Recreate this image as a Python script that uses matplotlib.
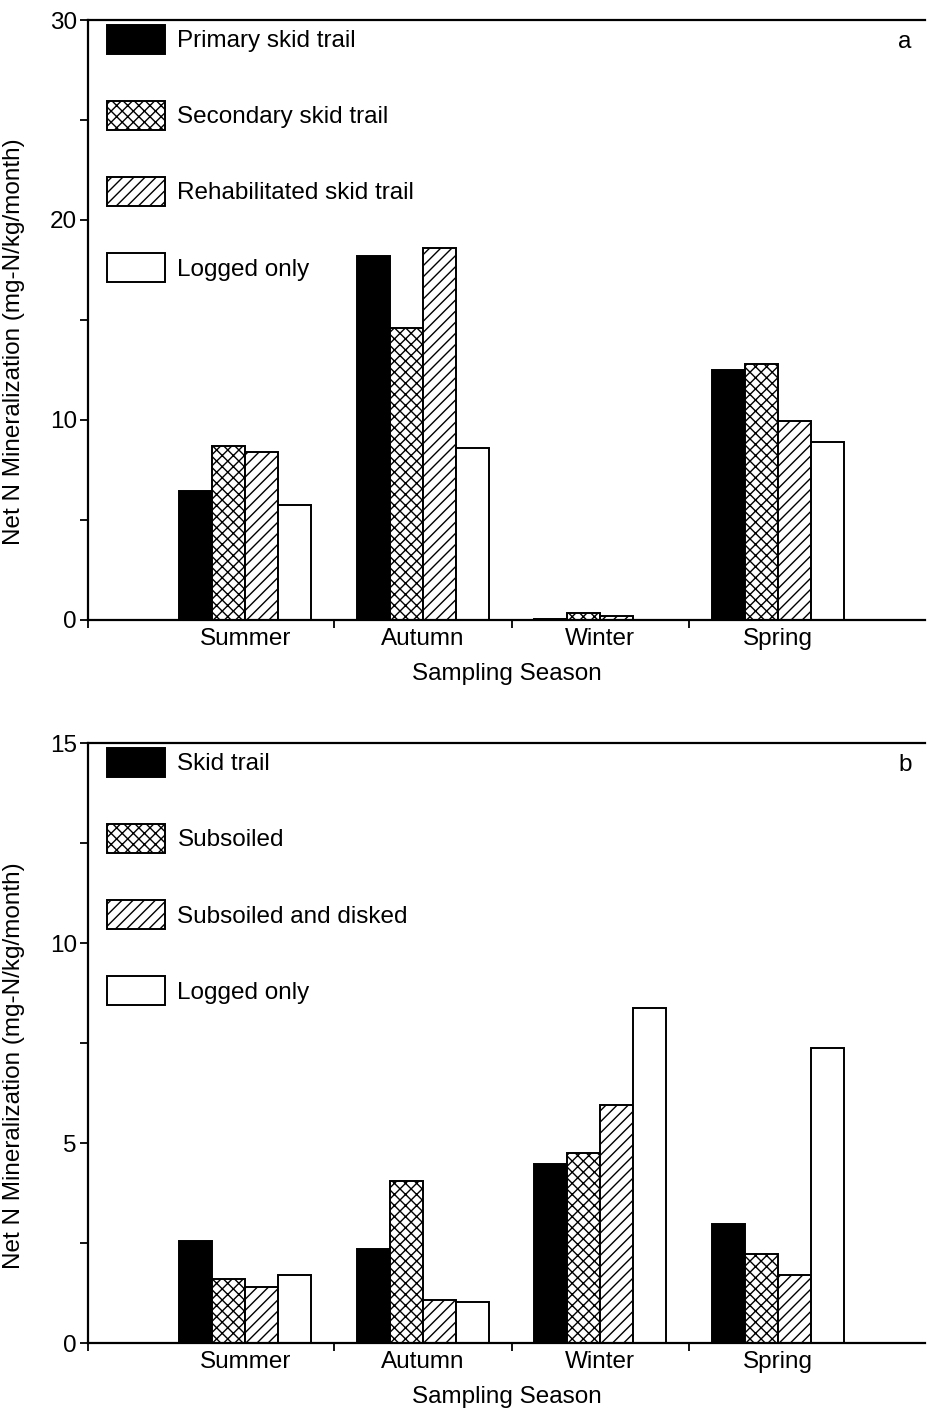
import matplotlib
matplotlib.use("Agg")
import matplotlib.pyplot as plt
import numpy as np
from matplotlib.patches import Patch
from matplotlib.ticker import MultipleLocator, FixedLocator

plt.rcParams['font.family'] = ['Liberation Sans', 'DejaVu Sans']
plt.rcParams['hatch.linewidth'] = 1.0

seasons = ['Summer', 'Autumn', 'Winter', 'Spring']

# panel a
labels_a = ['Primary skid trail', 'Secondary skid trail',
            'Rehabilitated skid trail', 'Logged only']
primary = [6.45, 18.2, 0.03, 12.5]
secondary = [8.7, 14.6, 0.33, 12.8]
rehab = [8.4, 18.6, 0.18, 9.95]
logged_a = [5.75, 8.6, 0.0, 8.9]

# panel b
labels_b = ['Skid trail', 'Subsoiled', 'Subsoiled and disked', 'Logged only']
skid = [2.55, 2.35, 4.47, 2.97]
subsoiled = [1.6, 4.05, 4.75, 2.22]
disked = [1.4, 1.08, 5.96, 1.71]
logged_b = [1.69, 1.03, 8.37, 7.37]

styles = [dict(facecolor='black', hatch=None),
          dict(facecolor='white', hatch='xxx'),
          dict(facecolor='white', hatch='///'),
          dict(facecolor='white', hatch=None)]

FS = 17.5
W = 0.186
XLIM = (-0.887, 3.83)


def draw_panel(ax, series, labels, ymax, major, letter):
    x = np.arange(len(seasons))
    for i, (vals, st) in enumerate(zip(series, styles)):
        ax.bar(x + (i - 1.5) * W, vals, width=W, color=st['facecolor'],
               hatch=st['hatch'], edgecolor='black', linewidth=1.4)
    ax.set_xlim(*XLIM)
    ax.set_ylim(0, ymax)
    ax.set_xticks(x)
    ax.set_xticklabels(seasons, fontsize=FS)
    ax.xaxis.set_minor_locator(FixedLocator([XLIM[0], 0.5, 1.5, 2.5]))
    ax.tick_params(axis='x', which='major', length=0, pad=6)
    ax.tick_params(axis='x', which='minor', length=6, width=1.3, direction='out')
    ax.yaxis.set_major_locator(MultipleLocator(major))
    ax.yaxis.set_minor_locator(MultipleLocator(major / 2))
    ax.tick_params(axis='y', which='both', length=6, width=1.3,
                   direction='out', labelsize=FS, pad=2)
    for s in ['left', 'bottom', 'top']:
        ax.spines[s].set_linewidth(1.6)
    ax.spines['right'].set_visible(False)
    ax.set_xlabel('Sampling Season', fontsize=FS, labelpad=9)
    ax.set_ylabel('Net N Mineralization (mg-N/kg/month)', fontsize=FS)
    ax.yaxis.set_label_coords(-0.075, 0.463)

    handles = [Patch(facecolor=st['facecolor'], hatch=st['hatch'],
                     edgecolor='black', linewidth=1.4) for st in styles]
    ax.legend(handles, labels, loc='upper left', bbox_to_anchor=(0.0227, 0.992),
              frameon=False, fontsize=FS, handlelength=2.4, handleheight=1.44,
              labelspacing=1.95, handletextpad=0.5, borderpad=0,
              borderaxespad=0)
    ax.text(0.976, 0.963, letter, transform=ax.transAxes, fontsize=FS,
            ha='center', va='center')


fig = plt.figure(figsize=(9.3, 14.09), dpi=100)
ax1 = fig.add_axes([0.0946, 0.5600, 0.9, 0.4258])
ax2 = fig.add_axes([0.0946, 0.0468, 0.9, 0.4258])

draw_panel(ax1, [primary, secondary, rehab, logged_a], labels_a, 30, 10, 'a')
draw_panel(ax2, [skid, subsoiled, disked, logged_b], labels_b, 15, 5, 'b')

fig.savefig('out.png', dpi=100)
